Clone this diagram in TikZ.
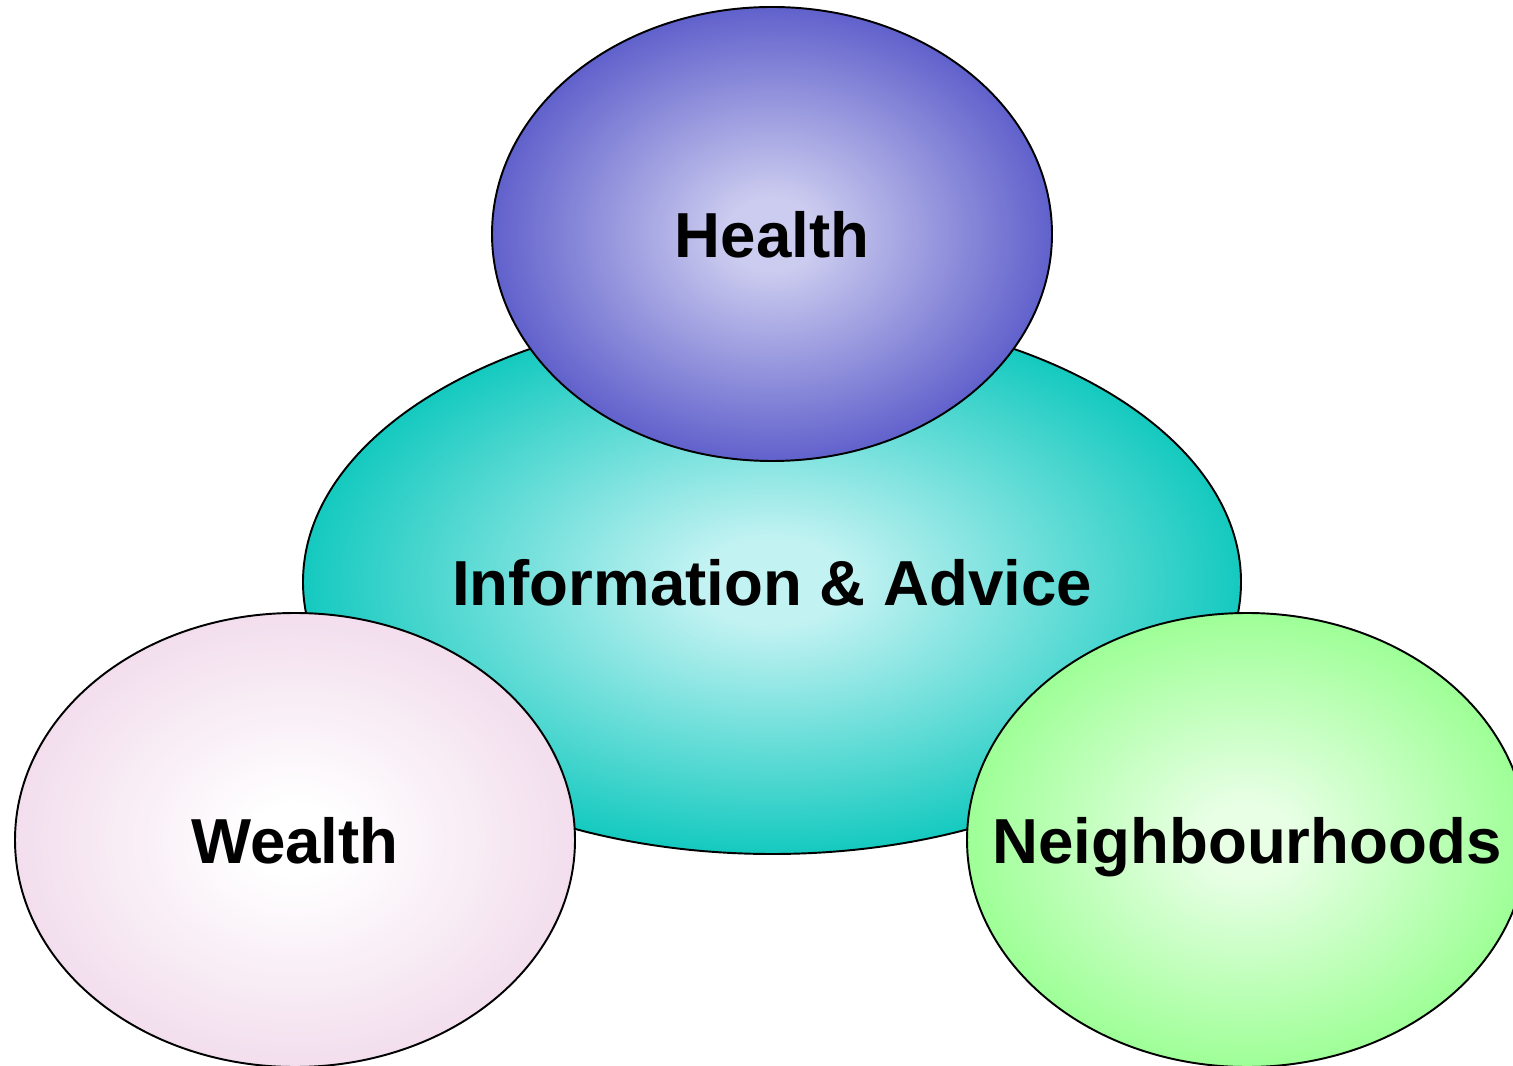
\documentclass[tikz,border=0pt]{standalone}
\usepackage{fontspec}
\setmainfont{Liberation Sans}
\usepackage{tikz}
\usetikzlibrary{shapes.geometric}
\definecolor{hlthin}{rgb}{0.80, 0.80, 0.94}
\definecolor{hlthout}{rgb}{0.38, 0.38, 0.80}
\definecolor{infoin}{rgb}{0.76, 0.95, 0.95}
\definecolor{infoout}{rgb}{0.08, 0.79, 0.75}
\definecolor{wlthin}{rgb}{1.00, 1.00, 1.00}
\definecolor{wlthout}{rgb}{0.95, 0.87, 0.93}
\definecolor{nbhin}{rgb}{0.91, 1.00, 0.90}
\definecolor{nbhout}{rgb}{0.62, 1.00, 0.59}
\pgfdeclareradialshading{hlthshade}{\pgfpointorigin}{color(0bp)=(hlthin); color(4bp)=(hlthin); color(25bp)=(hlthout); color(50bp)=(hlthout)}
\pgfdeclareradialshading{infoshade}{\pgfpointorigin}{color(0bp)=(infoin); color(4bp)=(infoin); color(25bp)=(infoout); color(50bp)=(infoout)}
\pgfdeclareradialshading{wlthshade}{\pgfpointorigin}{color(0bp)=(wlthin); color(4bp)=(wlthin); color(25bp)=(wlthout); color(50bp)=(wlthout)}
\pgfdeclareradialshading{nbhshade}{\pgfpointorigin}{color(0bp)=(nbhin); color(4bp)=(nbhin); color(25bp)=(nbhout); color(50bp)=(nbhout)}
\begin{document}
\begin{tikzpicture}[bubble/.style = {shape=ellipse, draw, line width=1.1pt,
					inner sep=0pt, minimum width=11.2cm, minimum height=9.08cm},
					lbl/.style = {font=\fontsize{36.2}{40}\selectfont\bfseries, inner sep=0pt, text depth=0pt}]
	\useasboundingbox (0,0) rectangle (30.26,21.3);
	% centre bubble first, the others lie on top
	\node[bubble, shading=infoshade, minimum width=18.76cm, minimum height=10.88cm] (info) at (15.44,9.66) {};
	\node[bubble, shading=hlthshade] (health) at (15.44,16.62) {};
	\node[bubble, shading=wlthshade] (wealth) at (5.9,4.5) {};
	\node[bubble, shading=nbhshade] (nbh) at (24.94,4.5) {};
	% labels
	\node[lbl] (infotxt) at (info.center) {Information \& Advice};
	\node[lbl] (healthtxt) at (health.center) {Health};
	\node[lbl] (wealthtxt) at (wealth.center) {Wealth};
	\node[lbl] (nbhtxt) at (nbh.center) {Neighbourhoods};
\end{tikzpicture}
\end{document}
